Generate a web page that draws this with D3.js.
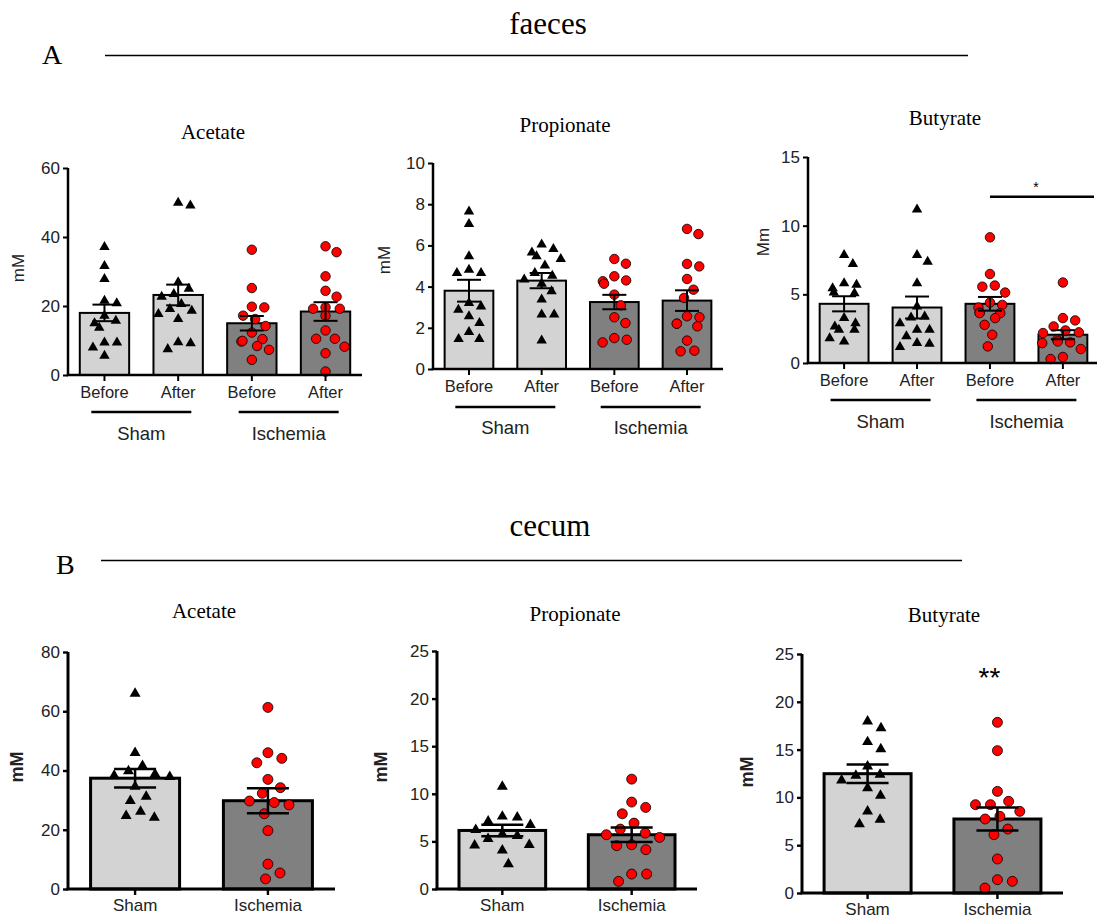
<!DOCTYPE html>
<html><head><meta charset="utf-8">
<script src="https://cdn.jsdelivr.net/npm/d3@7/dist/d3.min.js"></script>
<style>body{margin:0;background:#fff;} svg{display:block;}</style>
</head><body>
<svg id="chart" width="1097" height="922"></svg>
<script>
// ---------------- DATA ----------------
const faecesCats = ["Before", "After", "Before", "After"];
const faecesGroups = ["Sham", "Ischemia"];
const cecumCats = ["Sham", "Ischemia"];

// faeces - Acetate
const fAcetatePts = [
  [37.1, 31.6, 27.8, 21.5, 20.8, 17.2, 15.0, 15.7, 13.7, 9.4, 9.4, 8.0, 5.6],
  [49.1, 49.9, 26.9, 25.0, 23.5, 22.7, 20.6, 17.7, 19.1, 18.6, 16.2, 9.5, 7.5, 9.2],
  [36.3, 25.2, 19.8, 19.6, 17.2, 16.2, 14.2, 12.3, 10.4, 9.7, 9.9, 8.4, 7.3, 4.4],
  [37.3, 35.6, 28.6, 24.4, 22.7, 19.6, 19.2, 19.2, 17.2, 12.9, 10.5, 10.5, 8.2, 6.3, 1.0]
];
const fAcetateMean = [18.0, 23.2, 15.0, 18.4];
const fAcetateSem = [2.4, 3.0, 2.1, 2.7];

// faeces - Propionate
const fPropPts = [
  [7.65, 7.04, 5.47, 4.66, 4.82, 4.66, 3.2, 3.04, 2.88, 2.56, 2.23, 1.8, 1.46, 1.46],
  [6.04, 5.66, 5.83, 5.47, 5.34, 5.02, 4.66, 4.53, 4.34, 4.14, 3.37, 3.77, 2.64, 2.64, 1.38],
  [5.34, 5.11, 4.5, 4.26, 4.3, 3.61, 3.09, 2.51, 2.23, 1.5, 1.29, 1.42, 4.14],
  [6.8, 6.55, 4.98, 5.1, 4.37, 3.85, 3.45, 2.51, 2.56, 2.2, 2.2, 2.07, 1.38, 0.86, 0.89]
];
const fPropMean = [3.80, 4.29, 3.25, 3.32];
const fPropSem = [0.53, 0.37, 0.35, 0.5];

// faeces - Butyrate
const fButPts = [
  [7.86, 7.21, 5.8, 5.44, 5.08, 5.13, 5.69, 2.9, 2.66, 3.27, 2.42, 2.42, 1.57, 1.81],
  [11.18, 7.86, 7.38, 5.8, 4.11, 3.31, 2.42, 2.42, 2.9, 3.39, 1.45, 1.16, 1.4, 1.94],
  [9.15, 6.48, 5.56, 5.64, 5.13, 4.4, 4.23, 4.04, 3.63, 3.68, 3.63, 3.27, 2.78, 2.06, 1.21],
  [5.86, 2.66, 3.27, 3.1, 2.23, 2.37, 2.18, 1.69, 1.5, 1.45, 1.57, 1.02, 0.29, 0.44]
];
const fButMean = [4.31, 4.04, 4.31, 2.06];
const fButSem = [0.55, 0.8, 0.5, 0.33];

// cecum - Acetate
const cAcetatePts = [
  [66.0, 46.0, 41.6, 39.8, 38.8, 37.9, 38.3, 34.6, 31.2, 29.8, 26.1, 24.7, 24.1],
  [61.3, 46.0, 44.1, 42.6, 37.0, 34.2, 32.3, 29.7, 29.2, 28.4, 25.4, 19.7, 8.4, 5.4, 3.4]
];
const cAcetateMean = [37.4, 29.8];
const cAcetateSem = [3.1, 4.2];

// cecum - Propionate
const cPropPts = [
  [10.77, 7.62, 7.1, 7.52, 6.75, 6.22, 5.59, 5.77, 5.28, 4.65, 4.58, 4.06, 2.62],
  [11.54, 8.57, 9.13, 7.9, 6.92, 6.29, 5.7, 5.87, 5.42, 4.55, 4.13, 4.65, 1.57, 1.57, 0.8]
];
const cPropMean = [6.15, 5.7];
const cPropSem = [0.6, 0.75];

// cecum - Butyrate
const cButPts = [
  [17.96, 17.26, 15.8, 15.06, 13.25, 12.38, 11.79, 12.27, 10.98, 10.18, 8.54, 7.67, 7.22],
  [17.85, 14.89, 10.63, 9.24, 9.59, 9.24, 8.54, 8.02, 7.74, 6.69, 6.10, 3.56, 1.39, 1.22, 0.52]
];
const cButMean = [12.48, 7.74];
const cButSem = [0.97, 1.2];

const yTicksFA = [0, 20, 40, 60];
const yTicksFP = [0, 2, 4, 6, 8, 10];
const yTicksFB = [0, 5, 10, 15];
const yTicksCA = [0, 20, 40, 60, 80];
const yTicksCP = [0, 5, 10, 15, 20, 25];
const yTicksCB = [0, 5, 10, 15, 20, 25];

// ---------------- DRAWING ----------------
const svg = d3.select("#chart");
const SANS = "'Liberation Sans', Arial, sans-serif";
const SERIF = "'Liberation Serif', 'Times New Roman', serif";
const LIGHT = "#d3d3d3", DARK = "#808080", RED = "#ff0000";

// Section headers
function header(txt, letter, cx, tb, lx, lb, lineY, x1, x2) {
  svg.append("text").attr("x", cx).attr("y", tb).attr("text-anchor", "middle")
    .attr("font-family", SERIF).attr("font-size", 31).text(txt);
  svg.append("text").attr("x", lx).attr("y", lb)
    .attr("font-family", SERIF).attr("font-size", 28).text(letter);
  svg.append("line").attr("x1", x1).attr("x2", x2).attr("y1", lineY).attr("y2", lineY)
    .attr("stroke", "#000").attr("stroke-width", 1.5);
}
header("faeces", "A", 548, 34, 42, 64, 55.5, 105, 968);
header("cecum", "B", 550, 536, 56, 574, 560.5, 101, 962);

// deterministic beeswarm offsets (pixel), using y pixel positions, limited spread
function swarm(ys, d, maxOff) {
  const order = ys.map((y, i) => i).sort((a, b) => ys[a] - ys[b]);
  const placed = [];
  const xs = new Array(ys.length).fill(0);
  for (const i of order) {
    const y = ys[i];
    const forb = [];
    for (const p of placed) {
      const dy = Math.abs(p.y - y);
      if (dy < d) {
        const w = Math.sqrt(d * d - dy * dy);
        forb.push([p.x - w, p.x + w]);
      }
    }
    const cands = [0];
    forb.forEach(f => { cands.push(f[0], f[1]); });
    cands.sort((a, b) => Math.abs(a) - Math.abs(b) || b - a);
    let x = null;
    for (const c of cands) {
      if (Math.abs(c) > maxOff + 1e-6) continue;
      if (!forb.some(f => c > f[0] + 1e-6 && c < f[1] - 1e-6)) { x = c; break; }
    }
    if (x === null) {
      // least-crowded position inside the allowed range
      const grid = d3.range(-maxOff, maxOff + 0.01, maxOff / 4);
      x = d3.least(grid, c => forb.filter(f => c > f[0] && c < f[1]).length * 1000 + Math.abs(c));
    }
    xs[i] = x; placed.push({x, y});
  }
  return xs;
}

function panel(cfg) {
  const g = svg.append("g");
  const x = d3.scaleBand().domain(d3.range(cfg.cats.length)).range([cfg.x0, cfg.x1])
    .paddingInner(cfg.pi).paddingOuter(cfg.po);
  const y = d3.scaleLinear().domain([0, cfg.ticks[cfg.ticks.length - 1]]).range([cfg.yb, cfg.yt]);
  const bw = x.bandwidth();

  // bars
  g.selectAll("rect.bar").data(cfg.mean).join("rect")
    .attr("x", (d, i) => x(i)).attr("width", bw)
    .attr("y", d => y(d)).attr("height", d => y(0) - y(d))
    .attr("fill", (d, i) => cfg.colors[i]).attr("stroke", "#000").attr("stroke-width", cfg.bsw);

  // points
  cfg.pts.forEach((arr, i) => {
    const ys = arr.map(v => y(v));
    const xs = swarm(ys, cfg.sp, bw / 2 - cfg.ms / 2 + 1);
    const cx = x(i) + bw / 2;
    if (cfg.shape[i] === "tri") {
      const sym = d3.symbol(d3.symbolTriangle, Math.sqrt(3) / 4 * cfg.ms * cfg.ms * 1.2);
      g.selectAll(null).data(arr).join("path")
        .attr("d", sym).attr("transform", (d, k) => `translate(${cx + xs[k]},${ys[k]})`)
        .attr("fill", "#000");
    } else {
      g.selectAll(null).data(arr).join("circle")
        .attr("cx", (d, k) => cx + xs[k]).attr("cy", (d, k) => ys[k]).attr("r", cfg.ms / 2)
        .attr("fill", RED).attr("stroke", "#000").attr("stroke-width", 0.8);
    }
  });

  // error bars
  cfg.mean.forEach((m, i) => {
    const cx = x(i) + bw / 2, s = cfg.sem[i];
    const eg = g.append("g").attr("stroke", "#000").attr("stroke-width", cfg.esw);
    eg.append("line").attr("x1", cx).attr("x2", cx).attr("y1", y(m + s)).attr("y2", y(m - s));
    eg.append("line").attr("x1", cx - cfg.cap / 2).attr("x2", cx + cfg.cap / 2).attr("y1", y(m + s)).attr("y2", y(m + s));
    eg.append("line").attr("x1", cx - cfg.cap / 2).attr("x2", cx + cfg.cap / 2).attr("y1", y(m - s)).attr("y2", y(m - s));
  });

  // y axis
  const ya = g.append("g").attr("transform", `translate(${cfg.x0},0)`)
    .call(d3.axisLeft(y).tickValues(cfg.ticks).tickSize(5).tickPadding(3).tickSizeOuter(0));
  ya.select(".domain").attr("stroke-width", cfg.asw).attr("d", `M0,${cfg.yb}V${cfg.yt}`);
  ya.selectAll(".tick line").attr("stroke-width", cfg.asw * 0.8);
  ya.selectAll("text").attr("font-family", SANS).attr("font-size", cfg.tfs).attr("fill", "#222");

  // x axis
  const xa = g.append("g").attr("transform", `translate(0,${cfg.yb})`)
    .call(d3.axisBottom(x).tickSize(6).tickPadding(cfg.xpad).tickSizeOuter(0).tickFormat(i => cfg.cats[i]));
  xa.select(".domain").attr("stroke-width", cfg.asw).attr("d", `M${cfg.x0 - cfg.asw / 2},0H${cfg.x1}`);
  xa.selectAll(".tick line").attr("stroke-width", cfg.asw * 0.8);
  xa.selectAll("text").attr("font-family", SANS).attr("font-size", cfg.xfs).attr("fill", "#222");

  // group lines
  if (cfg.groups) {
    cfg.groups.forEach((gn, k) => {
      const a = x(2 * k) + bw / 2, b = x(2 * k + 1) + bw / 2;
      const mid = (a + b) / 2, half = cfg.gHalf;
      g.append("line").attr("x1", mid - half).attr("x2", mid + half)
        .attr("y1", cfg.gLineY).attr("y2", cfg.gLineY).attr("stroke", "#000").attr("stroke-width", 2.5);
      g.append("text").attr("x", mid).attr("y", cfg.gTextY).attr("text-anchor", "middle")
        .attr("font-family", SANS).attr("font-size", 18.5).attr("fill", "#222").text(gn);
    });
  }

  // y label
  g.append("text").attr("transform", `translate(${cfg.ylx},${cfg.yly}) rotate(-90)`)
    .attr("text-anchor", "middle").attr("font-family", SANS).attr("font-size", cfg.ylfs)
    .attr("font-weight", cfg.ylBold ? "bold" : "normal").attr("fill", "#222").text(cfg.ylab);

  // title
  g.append("text").attr("x", cfg.tx).attr("y", cfg.ty).attr("text-anchor", "middle")
    .attr("font-family", SERIF).attr("font-size", 21).text(cfg.title);

  return {x, y, bw, g};
}

const topCommon = { cats: faecesCats, groups: faecesGroups, colors: [LIGHT, LIGHT, DARK, DARK],
  shape: ["tri", "tri", "circ", "circ"], pi: 0.33, po: 0.16, bsw: 2, esw: 2, asw: 2.5, cap: 24,
  ms: 9.5, sp: 12.5, tfs: 17, xfs: 16.5, xpad: 5, gHalf: 50, ylfs: 17, ylBold: false };
const botCommon = { cats: cecumCats, colors: [LIGHT, DARK], shape: ["tri", "circ"],
  pi: 0.33, po: 0.17, bsw: 3, esw: 2.5, asw: 3, cap: 42, ms: 10, sp: 15, tfs: 17, xfs: 17, xpad: 4,
  ylfs: 18, ylBold: true };

panel(Object.assign({}, topCommon, { pts: fAcetatePts, mean: fAcetateMean, sem: fAcetateSem, ticks: yTicksFA,
  x0: 68, x1: 362, yb: 375, yt: 168, gLineY: 412, gTextY: 440, ylab: "mM", ylx: 24, yly: 268,
  title: "Acetate", tx: 213, ty: 139 }));
panel(Object.assign({}, topCommon, { pts: fPropPts, mean: fPropMean, sem: fPropSem, ticks: yTicksFP,
  x0: 433, x1: 723, yb: 369, yt: 163, gLineY: 407, gTextY: 434, ylab: "mM", ylx: 390, yly: 260,
  title: "Propionate", tx: 565, ty: 132 }));
const pb = panel(Object.assign({}, topCommon, { pts: fButPts, mean: fButMean, sem: fButSem, ticks: yTicksFB,
  x0: 808, x1: 1099, yb: 363, yt: 157, gLineY: 400, gTextY: 428, ylab: "Mm", ylx: 769, yly: 242,
  title: "Butyrate", tx: 945, ty: 125 }));
// significance in faeces butyrate
pb.g.append("line").attr("x1", pb.x(2) + pb.bw / 2).attr("x2", 1094)
  .attr("y1", pb.y(12.1)).attr("y2", pb.y(12.1)).attr("stroke", "#000").attr("stroke-width", 2.5);
pb.g.append("text").attr("x", 1036).attr("y", pb.y(13.0) + 8).attr("text-anchor", "middle")
  .attr("font-family", SANS).attr("font-size", 14).text("*");

panel(Object.assign({}, botCommon, { pts: cAcetatePts, mean: cAcetateMean, sem: cAcetateSem, ticks: yTicksCA,
  x0: 68, x1: 335, yb: 889, yt: 652, ylab: "mM", ylx: 23, yly: 767,
  title: "Acetate", tx: 204, ty: 618 }));
panel(Object.assign({}, botCommon, { pts: cPropPts, mean: cPropMean, sem: cPropSem, ticks: yTicksCP,
  x0: 437, x1: 697, yb: 889, yt: 651, ylab: "mM", ylx: 387, yly: 767,
  title: "Propionate", tx: 575, ty: 621 }));
const cb = panel(Object.assign({}, botCommon, { pts: cButPts, mean: cButMean, sem: cButSem, ticks: yTicksCB,
  x0: 802, x1: 1063, yb: 893, yt: 654, ylab: "mM", ylx: 753, yly: 772,
  title: "Butyrate", tx: 944, ty: 622 }));
cb.g.append("text").attr("x", cb.x(1) + cb.bw / 2 - 8).attr("y", cb.y(23) + 14).attr("text-anchor", "middle")
  .attr("font-family", SANS).attr("font-size", 28).text("**");
</script>
</body></html>
